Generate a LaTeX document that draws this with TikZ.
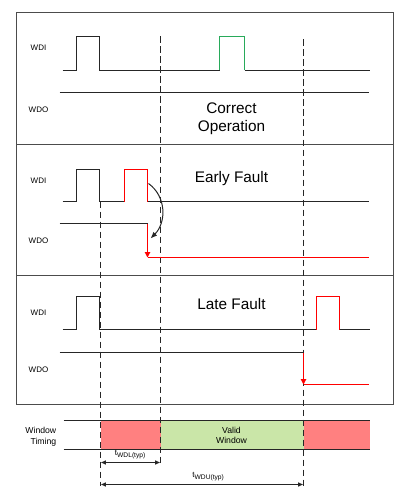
\documentclass[tikz,border=0pt]{standalone}
\usepackage{fontspec}
\setmainfont{Liberation Sans}
\usetikzlibrary{arrows.meta}
\definecolor{faultred}{RGB}{255,128,128}
\definecolor{validgreen}{RGB}{202,230,168}
\definecolor{okgreen}{RGB}{40,170,90}
\tikzstyle{frame}=[draw=black!70, line width=0.75pt]
\tikzstyle{sig}=[draw=black!85, line width=0.75pt]
\tikzstyle{bad}=[draw=red, line width=0.75pt]
\tikzstyle{winedge}=[draw=black!85, line width=0.75pt, dash pattern=on 5pt off 2.5pt]
\tikzstyle{lbl}=[inner sep=0pt, font=\fontsize{6}{7}\selectfont]
\tikzstyle{title}=[inner sep=0pt, align=center, font=\fontsize{11.5}{13.5}\selectfont]
\tikzstyle{wlbl}=[inner sep=0pt, align=center, font=\fontsize{6.5}{8}\selectfont]

\begin{document}
\begin{tikzpicture}[x=0.75pt,y=-0.75pt]
\useasboundingbox (-0.5,-0.5) rectangle (416.5,498.5);

% panels
\draw[frame] (16,12) rectangle (393,144);
\draw[frame] (16,144) rectangle (393,275);
\draw[frame] (16,275) rectangle (393,404);

% window timing bar
\fill[faultred] (100,420) rectangle (160,449);
\fill[validgreen] (160,420) rectangle (303,449);
\fill[faultred] (303,420) rectangle (369,449);
\draw[sig] (63,420) -- (369,420);
\draw[sig] (63,449) -- (369,449);

% window edges
\draw[winedge] (100,201) -- (100,485);
\draw[winedge] (160,36) -- (160,462);
\draw[winedge] (303,39) -- (303,485);

% correct operation
\node[lbl] (wdi1) at (38,47) {WDI};
\node[lbl] (wdo1) at (38,109) {WDO};
\draw[sig] (62,70) -- (76,70) -- (76,36) -- (99,36) -- (99,70) -- (219,70);
\draw[draw=okgreen, line width=0.75pt] (219,70) -- (219,36) -- (244,36) -- (244,70);
\draw[sig] (244,70) -- (369,70);
\draw[sig] (59,92) -- (368,92);
\node[title] (ok) at (231,118) {Correct\\Operation};

% early fault
\node[lbl] (wdi2) at (38,180) {WDI};
\node[lbl] (wdo2) at (38,240) {WDO};
\draw[sig] (62,201) -- (76,201) -- (76,169) -- (99,169) -- (99,201) -- (124,201);
\draw[bad] (124,201) -- (124,169) -- (147,169) -- (147,201);
\draw[sig] (147,201) -- (368,201);
\draw[sig] (59,223) -- (147,223);
\draw[bad,-{Triangle[length=4pt,width=4pt]}] (147,223) -- (147,257);
\draw[bad] (147,257) -- (368,257);
\draw[sig,-{Latex[length=5pt,width=4pt]}] (148,183) .. controls (166,196) and (166,222) .. (150,238);
\node[title] (early) at (231,178) {Early Fault};

% late fault
\node[lbl] (wdi3) at (38,312) {WDI};
\node[lbl] (wdo3) at (38,369) {WDO};
\draw[sig] (62,329) -- (76,329) -- (76,296) -- (99,296) -- (99,329) -- (316,329);
\draw[bad] (316,329) -- (316,296) -- (339,296) -- (339,329);
\draw[sig] (339,329) -- (369,329);
\draw[sig] (59,352) -- (303,352);
\draw[bad,-{Triangle[length=4pt,width=4pt]}] (303,352) -- (303,384);
\draw[bad] (303,384) -- (368,384);
\node[title] (late) at (231,304) {Late Fault};

% labels of the bar
\node[wlbl, align=right, anchor=east] (wt) at (56,436) {Window\\Timing};
\node[wlbl] (valid) at (231,435) {Valid\\Window};

% times
\draw[sig,{Latex[length=4pt,width=3.5pt]}-{Latex[length=4pt,width=3.5pt]}] (100,462) -- (160,462);
\node[lbl] (twdl) at (130,454) {t\textsubscript{WDL(typ)}};
\draw[sig,{Latex[length=4pt,width=3.5pt]}-{Latex[length=4pt,width=3.5pt]}] (100,484) -- (303,484);
\node[lbl] (twdu) at (208,476) {t\textsubscript{WDU(typ)}};
\end{tikzpicture}
\end{document}
